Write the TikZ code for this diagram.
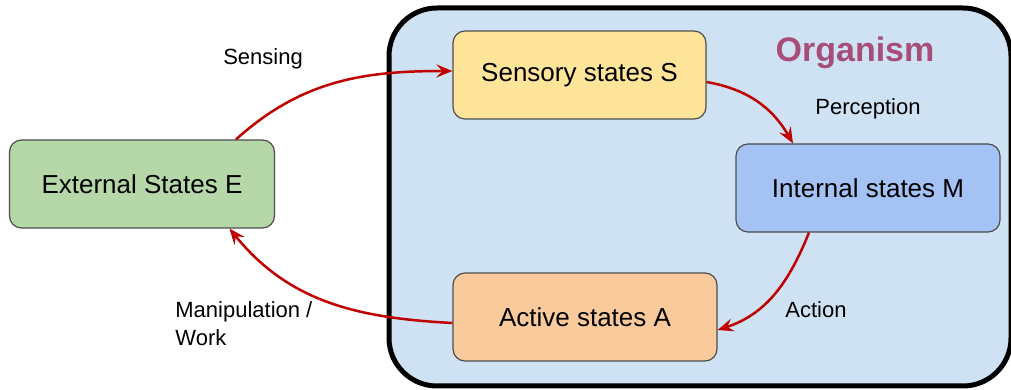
\documentclass[tikz,border=0pt]{standalone}
\usepackage{fontspec}
\setmainfont{Liberation Sans}
\usetikzlibrary{arrows.meta}

\definecolor{organismBlue}{HTML}{CFE2F3}
\definecolor{organismPink}{HTML}{A64D79}
\definecolor{sensoryYellow}{HTML}{FFE599}
\definecolor{internalBlue}{HTML}{A4C2F4}
\definecolor{activeOrange}{HTML}{F9CB9C}
\definecolor{externalGreen}{HTML}{B6D7A8}
\definecolor{boxGray}{HTML}{4D4D4D}
\definecolor{arrowRed}{HTML}{C00000}

\begin{document}
\begin{tikzpicture}[x=0.5pt, y=0.5pt,
	state/.style={draw=boxGray, line width=0.6pt, rounded corners=6pt,
		minimum height=44pt, font=\fontsize{13}{15}\selectfont},
	flow/.style={draw=arrowRed, line width=1.25pt,
		-{Stealth[length=8pt, width=6.5pt, inset=3pt]}},
	lbl/.style={font=\fontsize{11}{14}\selectfont}
	]
	
	\useasboundingbox (0,0) rectangle (1011,390);
	
	% ---- Organism body ----
	\node[draw=black, line width=2.5pt, rounded corners=24pt, fill=organismBlue,
		minimum width=311pt, minimum height=189pt] (body) at (700,193) {};
	\node[text=organismPink, font=\bfseries\fontsize{17}{20}\selectfont] (organism) at (855,337) {Organism};
	
	% ---- States ----
	\foreach \x/\y/\name/\col/\w/\txt in {
		579.5/315/sens/sensoryYellow/126.5/Sensory states S,
		868/202/int/internalBlue/132/Internal states M,
		585/73/act/activeOrange/132/Active states A,
		142/206/ext/externalGreen/132.5/External States E
	}
	{
		\node[state, fill=\col, minimum width=\w pt] (\name) at (\x,\y) {\txt};
	}
	
	% ---- Labels ----
	\node[lbl] (sensing) at (263,331) {Sensing};
	\node[lbl] (perception) at (868,281) {Perception};
	\node[lbl] (action) at (816,80) {Action};
	\node[lbl, anchor=west, align=left, inner sep=0pt] (manip) at (175,66) {Manipulation /\\Work};
	
	% ---- Flows ----
	\draw[flow] ([xshift=47pt]ext.north) to[out=42, in=180] ([yshift=2pt]sens.west);
	\draw[flow] ([yshift=-3.5pt]sens.east) to[out=-10, in=120] ([xshift=-37.5pt]int.north);
	\draw[flow] ([xshift=-29.5pt]int.south) to[out=-112, in=18] ([yshift=-6.5pt]act.east);
	\draw[flow] ([yshift=-3pt]act.west) to[out=177, in=-51] ([xshift=43.75pt]ext.south);
	
\end{tikzpicture}
\end{document}
